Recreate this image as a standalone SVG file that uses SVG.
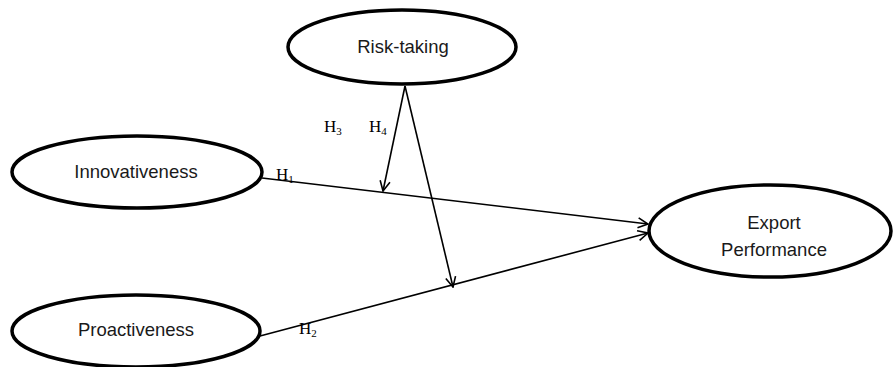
<svg xmlns="http://www.w3.org/2000/svg" width="893" height="367" viewBox="0 0 893 367">
<style>
.node{fill:#fff;stroke:#000;stroke-width:3.5}
.lbl{font-family:"Liberation Sans",Arial,sans-serif;font-size:18.5px;fill:#1a1a1a;text-anchor:middle}
.h{font-family:"Liberation Serif","Times New Roman",serif;font-size:17px;fill:#000}
.sub{font-size:11px}
.edge{stroke:#000;stroke-width:1.6;fill:none}
</style>
<defs>
<marker id="arr" viewBox="0 0 12 12" refX="11" refY="6" markerWidth="12" markerHeight="12" markerUnits="userSpaceOnUse" orient="auto">
<path d="M1,1 L11,6 L1,11" fill="none" stroke="#000" stroke-width="1.6"/>
</marker>
</defs>
<g id="connectors">
<line class="edge" x1="262" y1="178" x2="648" y2="224" marker-end="url(#arr)"/>
<line class="edge" x1="260" y1="336" x2="648" y2="233" marker-end="url(#arr)"/>
<line class="edge" x1="405" y1="86" x2="383" y2="191" marker-end="url(#arr)"/>
<line class="edge" x1="405" y1="86" x2="453" y2="287" marker-end="url(#arr)"/>
</g>
<g id="risk">
<ellipse class="node" cx="402" cy="47" rx="114" ry="37"/>
<text class="lbl" x="403" y="53">Risk-taking</text>
</g>
<g id="innov">
<ellipse class="node" cx="137" cy="172" rx="125" ry="36"/>
<text class="lbl" x="136" y="178">Innovativeness</text>
</g>
<g id="proact">
<ellipse class="node" cx="136" cy="331" rx="124" ry="36"/>
<text class="lbl" x="136" y="336">Proactiveness</text>
</g>
<g id="export">
<ellipse class="node" cx="770" cy="231" rx="121" ry="46"/>
<text class="lbl" x="774" y="229">Export</text>
<text class="lbl" x="774" y="256">Performance</text>
</g>
<g id="labels">
<text class="h" x="276" y="180">H<tspan class="sub" dy="3">1</tspan></text>
<text class="h" x="299" y="334">H<tspan class="sub" dy="3">2</tspan></text>
<text class="h" x="324" y="132">H<tspan class="sub" dy="3">3</tspan></text>
<text class="h" x="369" y="132">H<tspan class="sub" dy="3">4</tspan></text>
</g>
</svg>
